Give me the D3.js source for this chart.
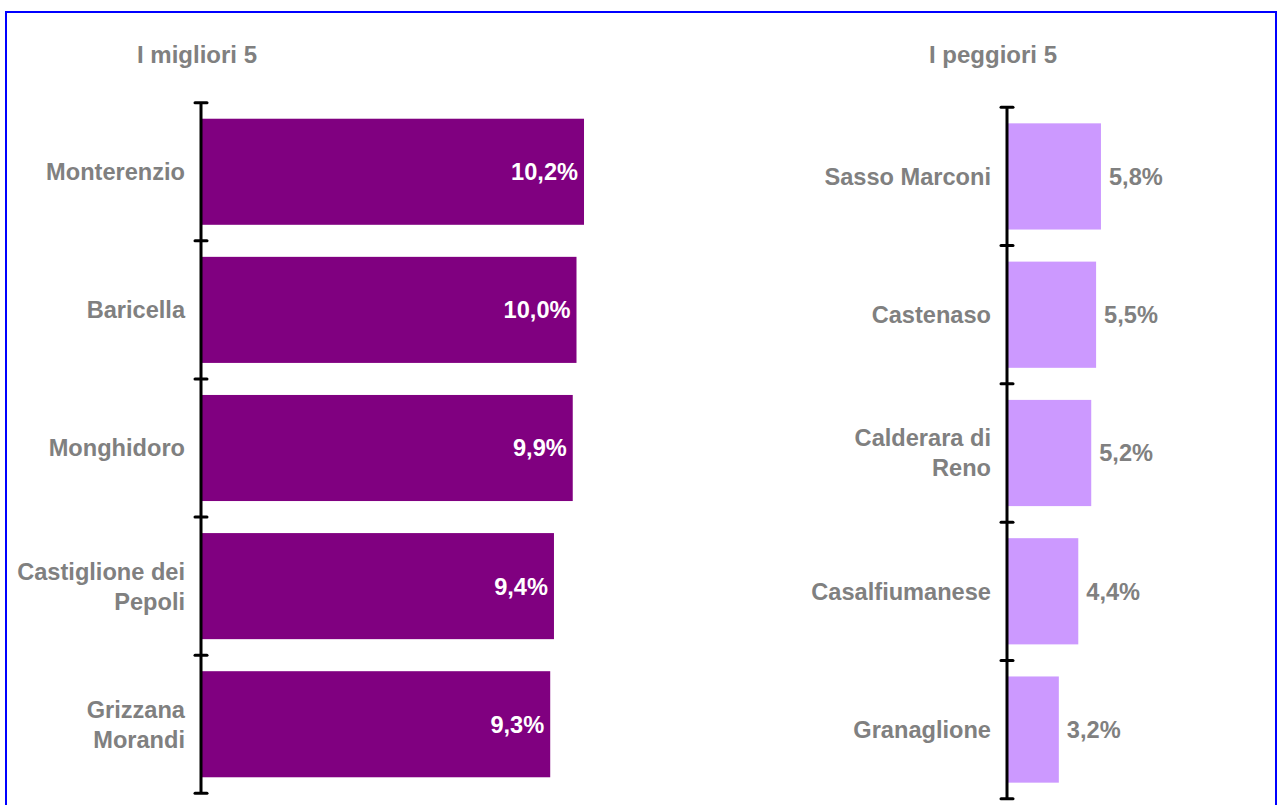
<!DOCTYPE html>
<html>
<head>
<meta charset="utf-8">
<script src="https://cdn.jsdelivr.net/npm/d3@7"></script>
<style>
  html, body { margin: 0; padding: 0; background: #ffffff; }
  svg { display: block; }
  text { font-family: "Liberation Sans", Arial, sans-serif; font-weight: bold; }
</style>
</head>
<body>
<svg id="chart" width="1278" height="805"></svg>
<script>
// Best five municipalities
const bestNames = ["Monterenzio", "Baricella", "Monghidoro", "Castiglione dei\nPepoli", "Grizzana\nMorandi"];
const bestValues = [10.2, 10.0, 9.9, 9.4, 9.3];
const bestLabels = ["10,2%", "10,0%", "9,9%", "9,4%", "9,3%"];

// Worst five municipalities
const worstNames = ["Sasso Marconi", "Castenaso", "Calderara di\nReno", "Casalfiumanese", "Granaglione"];
const worstValues = [5.8, 5.5, 5.2, 4.4, 3.2];
const worstLabels = ["5,8%", "5,5%", "5,2%", "4,4%", "3,2%"];

const titles = ["I migliori 5", "I peggiori 5"];

const svg = d3.select("#chart");
const grey = "#808080";

// outer frame
svg.append("rect")
  .attr("x", 6).attr("y", 12)
  .attr("width", 1270).attr("height", 820)
  .attr("fill", "none")
  .attr("stroke", "#0000ff")
  .attr("stroke-width", 2);

function panel(cfg) {
  const { names, values, labels, title, axisX, y0, y1, pxPerUnit, fill, inside, titleX } = cfg;
  const g = svg.append("g");

  const y = d3.scaleBand()
    .domain(names)
    .range([y0, y1])
    .paddingInner(0.232)
    .paddingOuter(0.116);

  const x = d3.scaleLinear()
    .domain([0, 12])
    .range([axisX, axisX + 12 * pxPerUnit]);

  const rows = names.map((n, i) => ({ name: n, value: values[i], label: labels[i] }));

  g.append("text")
    .attr("x", titleX).attr("y", 63)
    .attr("text-anchor", "middle")
    .attr("font-size", 24)
    .attr("fill", grey)
    .text(title);

  g.selectAll("rect.bar")
    .data(rows)
    .join("rect")
    .attr("class", "bar")
    .attr("x", x(0))
    .attr("y", d => y(d.name))
    .attr("width", d => x(d.value) - x(0))
    .attr("height", y.bandwidth())
    .attr("fill", fill);

  // vertical axis with tick marks on the category boundaries
  const step = y.step();
  const bounds = names.map(n => y(n) - step * y.paddingInner() / 2);
  bounds.push(y1);
  g.append("line")
    .attr("x1", axisX).attr("x2", axisX)
    .attr("y1", y0).attr("y2", y1)
    .attr("stroke", "#000").attr("stroke-width", 3);
  g.selectAll("line.tick")
    .data(bounds)
    .join("line")
    .attr("class", "tick")
    .attr("x1", axisX - 6).attr("x2", axisX + 6)
    .attr("y1", d => d).attr("y2", d => d)
    .attr("stroke", "#000").attr("stroke-width", 3)
    .attr("stroke-linecap", "round");

  // category labels, wrapped on "\n"
  const lineH = 30;
  g.selectAll("text.cat")
    .data(rows)
    .join("text")
    .attr("class", "cat")
    .attr("text-anchor", "end")
    .attr("font-size", 23.6)
    .attr("fill", grey)
    .each(function (d) {
      const lines = d.name.split("\n");
      const cy = y(d.name) + y.bandwidth() / 2;
      const t = d3.select(this);
      lines.forEach((ln, k) => {
        t.append("tspan")
          .attr("x", axisX - 16)
          .attr("y", cy + (k - (lines.length - 1) / 2) * lineH)
          .attr("dy", "0.36em")
          .text(ln);
      });
    });

  // value labels
  g.selectAll("text.val")
    .data(rows)
    .join("text")
    .attr("class", "val")
    .attr("x", d => inside ? x(d.value) - 6 : x(d.value) + 8)
    .attr("y", d => y(d.name) + y.bandwidth() / 2)
    .attr("dy", "0.36em")
    .attr("text-anchor", inside ? "end" : "start")
    .attr("font-size", 23.6)
    .attr("fill", inside ? "#ffffff" : grey)
    .text(d => d.label);
}

panel({
  names: bestNames, values: bestValues, labels: bestLabels, title: titles[0],
  axisX: 201, y0: 102.7, y1: 793.3, pxPerUnit: 37.55,
  fill: "#800080", inside: true, titleX: 197
});

panel({
  names: worstNames, values: worstValues, labels: worstLabels, title: titles[1],
  axisX: 1007, y0: 107.3, y1: 798.7, pxPerUnit: 16.2,
  fill: "#cc99ff", inside: false, titleX: 993
});
</script>
</body>
</html>
